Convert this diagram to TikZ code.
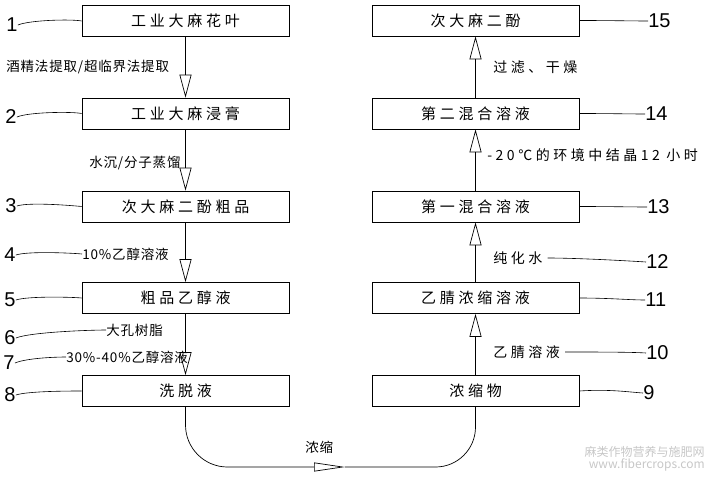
\documentclass[tikz,border=0pt]{standalone}
\usepackage{fontspec}
\setmainfont{Noto Sans CJK SC}
\newfontfamily\boxfont{Noto Sans CJK SC}[LetterSpace=25]
\newfontfamily\labelfont{Noto Sans CJK SC}[LetterSpace=6]
\newfontfamily\widefont{Noto Sans CJK SC}[LetterSpace=25]
\newfontfamily\numfont{Liberation Sans}
\usetikzlibrary{arrows.meta}

\begin{document}
\begin{tikzpicture}[x = 1pt,
                    y = -1pt,
                    line width = 0.7pt,
                    color = {black}]
% styles
\tikzset{stepbox/.style={draw=black,minimum width=207pt,minimum height=31pt,inner sep=0pt,font=\boxfont\fontsize{15pt}{15pt}\selectfont}}
\tikzset{note/.style={anchor=west,inner sep=0pt,font=\labelfont\fontsize{13.5pt}{14pt}\selectfont}}
\tikzset{widenote/.style={anchor=west,inner sep=0pt,font=\widefont\fontsize{14pt}{14pt}\selectfont}}
\tikzset{num/.style={inner sep=0pt,font=\numfont\fontsize{20pt}{20pt}\selectfont}}
\tikzset{lead/.style={draw=black,line width=0.6pt}}
\tikzset{flow/.style={draw=black,arrows = -{Triangle[open,length=23pt,width=12pt]}}}
\useasboundingbox (0,0) rectangle (711,476);

%left column
\node[stepbox] (B1) at (185.5,21) {工业大麻花叶};
\node[stepbox] (B2) at (185.5,113.5) {工业大麻浸膏};
\node[stepbox] (B3) at (185.5,206.5) {次大麻二酚粗品};
\node[stepbox] (B5) at (185.5,298) {粗品乙醇液};
\node[stepbox] (B8) at (185.5,391) {洗脱液};
%right column
\node[stepbox] (B9) at (475.5,391) {浓缩物};
\node[stepbox] (B11) at (475.5,298) {乙腈浓缩溶液};
\node[stepbox] (B13) at (475.5,206.5) {第一混合溶液};
\node[stepbox] (B14) at (475.5,113.5) {第二混合溶液};
\node[stepbox] (B15) at (475.5,20.5) {次大麻二酚};

%steps
\node[note] (L1) at (6,67) {酒精法提取/超临界法提取};
\node[note] (L2) at (89,163) {水沉/分子蒸馏};
\node[note] (L4) at (82,254) {10\%乙醇溶液};
\node[note] (L6) at (106,330) {大孔树脂};
\node[note] (L7) at (66,357) {30\%-40\%乙醇溶液};
\node[note] (L9) at (305,447) {浓缩};
\node[widenote] (L10) at (493,352) {乙腈溶液};
\node[widenote] (L12) at (493,258) {纯化水};
\node[widenote] (L14) at (487,155) {-20℃的环境中结晶12 小时};
\node[widenote] (L15) at (493,67) {过滤、干燥};

%arrows
\draw[flow] (B1) -- (B2);
\draw[flow] (B2) -- (B3);
\draw[flow] (B3) -- (B5);
\draw[flow] (B5) -- (B8);
\draw[flow] (B9) -- (B11);
\draw[flow] (B11) -- (B13);
\draw[flow] (B13) -- (B14);
\draw[flow] (B14) -- (B15);
%bottom turn
\coordinate (M) at (345,467);
\draw[rounded corners=42pt, arrows = -{Triangle[open,length=31pt,width=9pt]}] (B8.south) |- (M);
\draw[rounded corners=40pt] (M) -| (B9.south);

%numbers
\node[num] (N1) at (12,25) {1};
\node[num] (N2) at (11,117) {2};
\node[num] (N3) at (11,206) {3};
\node[num] (N4) at (10,255) {4};
\node[num] (N5) at (10,300) {5};
\node[num] (N6) at (10,338) {6};
\node[num] (N7) at (9,363) {7};
\node[num] (N8) at (10,395) {8};
\node[num, anchor=west] (N9) at (643,393) {9};
\node[num, anchor=west] (N10) at (646,353) {10};
\node[num, anchor=west] (N11) at (645,300) {11};
\node[num, anchor=west] (N12) at (646,262) {12};
\node[num, anchor=west] (N13) at (647,207) {13};
\node[num, anchor=west] (N14) at (645,114) {14};
\node[num, anchor=west] (N15) at (648,21) {15};

%leads left
\draw[lead] (N1.east) .. controls +(12,-5) and +(-10,-2) .. (B1.west);
\draw[lead] (N2.east) .. controls +(12,-5) and +(-10,-2) .. (B2.west);
\draw[lead] (N3.east) .. controls +(12,-4) and +(-10,-1) .. (B3.west);
\draw[lead] (N4.east) .. controls +(12,-4) and +(-10,-1) .. (L4.west);
\draw[lead] (N5.east) .. controls +(12,-4) and +(-10,-1) .. (B5.west);
\draw[lead] (N6.east) .. controls +(15,-6) and +(-15,0) .. (L6.west);
\draw[lead] (N7.east) .. controls +(12,-5) and +(-10,0) .. (L7.west);
\draw[lead] (N8.east) .. controls +(12,-4) and +(-10,0) .. (B8.west);
%leads right
\draw[lead] (B9.east) .. controls +(30,-2) and +(-15,-1) .. (N9.west);
\draw[lead] ([xshift=5pt]L10.east) .. controls +(30,0) and +(-15,-1) .. (N10.west);
\draw[lead] (B11.east) .. controls +(30,0) and +(-15,0) .. (N11.west);
\draw[lead] ([xshift=5pt]L12.east) .. controls +(30,0) and +(-15,-1) .. (N12.west);
\draw[lead] (B13.east) .. controls +(30,0) and +(-15,0) .. (N13.west);
\draw[lead] (B14.east) .. controls +(30,0) and +(-15,0) .. (N14.west);
\draw[lead] (B15.east) .. controls +(30,0) and +(-15,0) .. (N15.west);

%mark
\node[anchor=east,inner sep=0pt,text=black!22,font=\fontsize{12pt}{12pt}\selectfont] (W1) at (705,452) {麻类作物营养与施肥网};
\node[anchor=east,inner sep=0pt,text=black!22,font=\fontsize{12pt}{12pt}\selectfont] (W2) at (705,465) {www.fibercrops.com};
\end{tikzpicture}
\end{document}
